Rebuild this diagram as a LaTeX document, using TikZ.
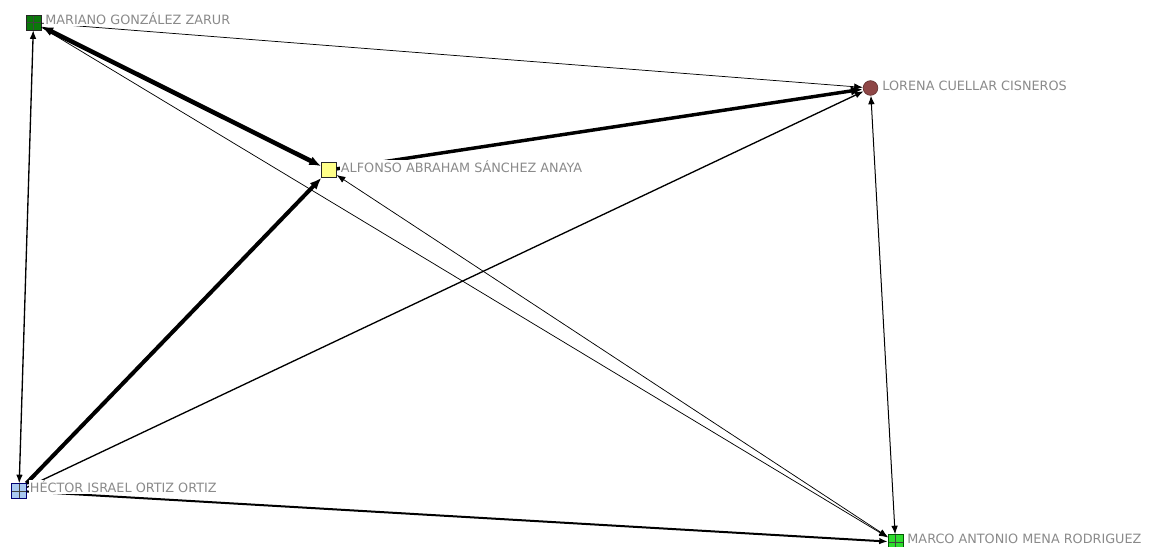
\documentclass[tikz,border=0pt]{standalone}
\usepackage{fontspec}
\setmainfont{DejaVu Sans}
\usetikzlibrary{arrows.meta,calc,positioning}
\definecolor{mgreen}{HTML}{0A780A}
\definecolor{kgreen}{HTML}{2EDC2E}
\definecolor{hblue}{HTML}{A9C9F2}
\definecolor{ayellow}{HTML}{FFFF88}
\definecolor{lbrown}{HTML}{8E4646}
\definecolor{lblgray}{HTML}{8A8A8A}

\begin{document}
\begin{tikzpicture}[x=.75pt,y=-.75pt,>=Latex,font=\fontsize{9.6}{11}\selectfont,
 vtx/.style={draw=black!85,line width=.5pt,minimum size=11pt,inner sep=0pt},
 grid/.style={vtx,path picture={\draw[black!75,line width=.45pt]
  (path picture bounding box.north)--(path picture bounding box.south)
  (path picture bounding box.west)--(path picture bounding box.east);}},
 lbl/.style={fill=white,text=lblgray,inner sep=.75pt,anchor=base west},
 onehead/.style={-{Latex[length=6.5pt,width=5pt]}},
 twohead/.style={{Latex[length=6.5pt,width=5pt]}-{Latex[length=6.5pt,width=5pt]}},
 bigone/.style={-{Latex[length=9pt,width=7pt]}},
 bigtwo/.style={{Latex[length=9pt,width=7pt]}-{Latex[length=9pt,width=7pt]}}]
\fill[white] (0,0) rectangle (1151,546);
\useasboundingbox (0,0) rectangle (1151,546);
% actores
\node[grid,fill=mgreen] (m) at (33.5,22.5) {};
\node[vtx,fill=ayellow] (a) at (329,170) {};
\node[vtx,circle,fill=lbrown,draw=lbrown!70!black] (l) at (870.5,88) {};
\node[grid,fill=hblue,draw=blue!45!black] (h) at (19,491) {};
\node[grid,fill=kgreen,draw=green!35!black] (k) at (895.5,542) {};
% vinculos
\foreach \a/\b/\w in {m/h/1pt,l/k/.75pt,a/k/.55pt}
 \draw[twohead,line width=\w] (\a)--(\b);
\draw[bigtwo,line width=3.4pt] (a)--(m);
\foreach \a/\b/\w in {m/l/.55pt,m/k/.55pt,h/l/1pt,h/k/1.5pt}
 \draw[onehead,line width=\w] (\a)--(\b);
\foreach \a/\b/\w in {h/a/3pt,a/l/2.6pt}
 \draw[bigone,line width=\w] (\a)--(\b);
% nombres
\node[lbl] (mtxt) at ([shift={(3,2)}]m.east) {MARIANO GONZÁLEZ ZARUR};
\node[lbl] (atxt) at ([shift={(3,2.5)}]a.east) {ALFONSO ABRAHAM SÁNCHEZ ANAYA};
\node[lbl] (ltxt) at ([shift={(3,2.5)}]l.east) {LORENA CUELLAR CISNEROS};
\node[lbl] (htxt) at ([shift={(2,1.5)}]h.east) {HÉCTOR ISRAEL ORTIZ ORTIZ};
\node[lbl] (ktxt) at ([shift={(3,1.5)}]k.east) {MARCO ANTONIO MENA RODRIGUEZ};
\end{tikzpicture}
\end{document}
